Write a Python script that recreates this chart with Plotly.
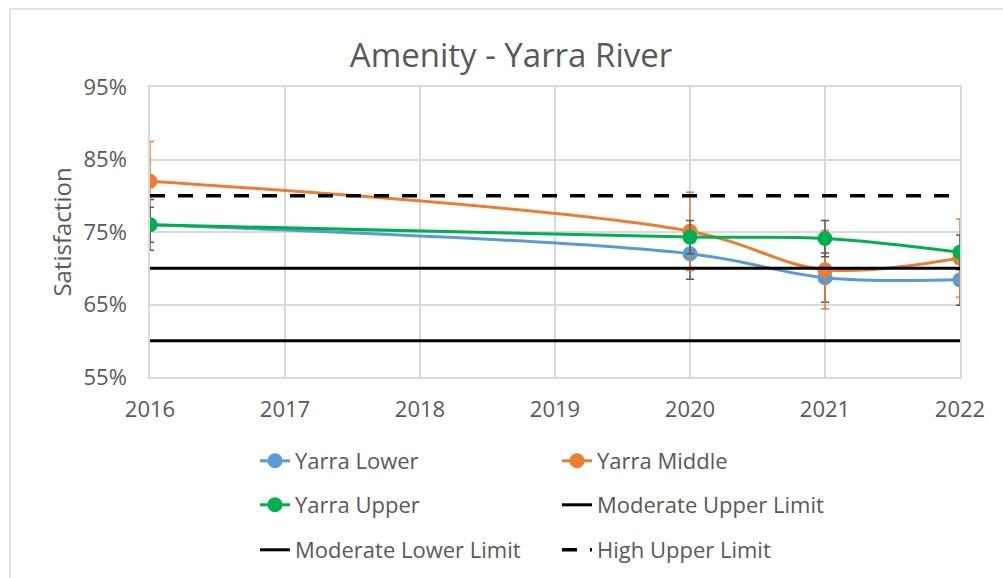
import plotly.graph_objects as go

# ---- data ----
years = [2016, 2020, 2021, 2022]
yarra_lower = [76.0, 72.0, 68.7, 68.4]
yarra_middle = [82.0, 75.1, 69.8, 71.4]
yarra_upper = [76.0, 74.3, 74.1, 72.2]
err_lower = [3.5, 3.5, 3.4, 3.5]
err_middle = [5.5, 5.4, 5.4, 5.4]
err_upper = [2.4, 2.3, 2.5, 2.4]

limit_years = [2016, 2022]
moderate_upper = [70, 70]
moderate_lower = [60, 60]
high_upper = [80, 80]

x_ticks = [2016, 2017, 2018, 2019, 2020, 2021, 2022]
y_ticks = [55, 65, 75, 85, 95]

FONT = "Open Sans"
TXT = "#595959"
GRID = "#D9D9D9"
FS = 22

fig = go.Figure()

def series(name, y, err, color, err_color, legend):
    fig.add_trace(go.Scatter(
        x=years, y=y, name=name, mode="lines+markers",
        line=dict(color=color, width=3, shape="spline", smoothing=1.0),
        marker=dict(color=color, size=15),
        error_y=dict(type="data", array=err, visible=True, color=err_color,
                     thickness=1.5, width=4),
        legend=legend,
    ))

series("Yarra Lower", yarra_lower, err_lower, "#5B9BD5", "#595959", "legend")
series("Yarra Middle", yarra_middle, err_middle, "#ED7D31", "#ED7D31", "legend")
series("Yarra Upper", yarra_upper, err_upper, "#00B050", "#595959", "legend2")

fig.add_trace(go.Scatter(x=limit_years, y=moderate_upper, name="Moderate Upper Limit",
                         mode="lines", line=dict(color="black", width=3), legend="legend2"))
fig.add_trace(go.Scatter(x=limit_years, y=moderate_lower, name="Moderate Lower Limit",
                         mode="lines", line=dict(color="black", width=3), legend="legend3"))
fig.add_trace(go.Scatter(x=limit_years, y=high_upper, name="High Upper Limit",
                         mode="lines", line=dict(color="black", width=3.5, dash="15px,13px"),
                         legend="legend3"))

L, R, T, B = 150, 43, 87, 201
W, H = 1003, 578
pw, ph = W - L - R, H - T - B

def py(p):
    return (H - B - p) / ph

def px(p):
    return (p - L) / pw

leg_common = dict(orientation="h", xanchor="left", yanchor="middle",
                  x=px(255), font=dict(family=FONT, size=FS, color=TXT),
                  entrywidth=257, entrywidthmode="pixels",
                  bgcolor="rgba(0,0,0,0)", traceorder="normal")

fig.update_layout(
    width=W, height=H,
    margin=dict(l=L, r=R, t=T, b=B, autoexpand=False),
    paper_bgcolor="white", plot_bgcolor="white",
    font=dict(family=FONT, color=TXT),
    title=dict(text="Amenity - Yarra River", x=511 / W,
               xanchor="center", y=1 - 55 / H, yanchor="middle",
               font=dict(family=FONT, size=33, color=TXT)),
    legend=dict(**leg_common, y=py(461)),
    legend2=dict(**leg_common, y=py(505)),
    legend3=dict(**leg_common, y=py(550)),
    showlegend=True,
    xaxis=dict(range=[2016, 2022], tickmode="array", tickvals=x_ticks,
               ticktext=[str(v) for v in x_ticks],
               showgrid=True, gridcolor=GRID, gridwidth=1.5,
               showline=True, linecolor=GRID, linewidth=1.5, mirror=True,
               zeroline=False, ticks="", ticklabelstandoff=12,
               tickfont=dict(family=FONT, size=FS, color=TXT)),
    yaxis=dict(range=[55, 95], tickmode="array", tickvals=y_ticks,
               ticktext=[f"{v}%" for v in y_ticks],
               showgrid=True, gridcolor=GRID, gridwidth=1.5,
               showline=True, linecolor=GRID, linewidth=1.5, mirror=True,
               zeroline=False, ticks="", ticklabelstandoff=17,
               title=dict(text="Satisfaction", standoff=5,
                          font=dict(family=FONT, size=24, color=TXT)),
               tickfont=dict(family=FONT, size=FS, color=TXT)),
    shapes=[dict(type="rect", xref="paper", yref="paper",
                 x0=px(10), x1=px(1020), y0=py(600), y1=py(9),
                 line=dict(color=GRID, width=1.5), fillcolor="rgba(0,0,0,0)",
                 layer="below")],
)

fig.write_html("out.html", config={"displayModeBar": False},
               post_script="document.body.style.margin='0';")
